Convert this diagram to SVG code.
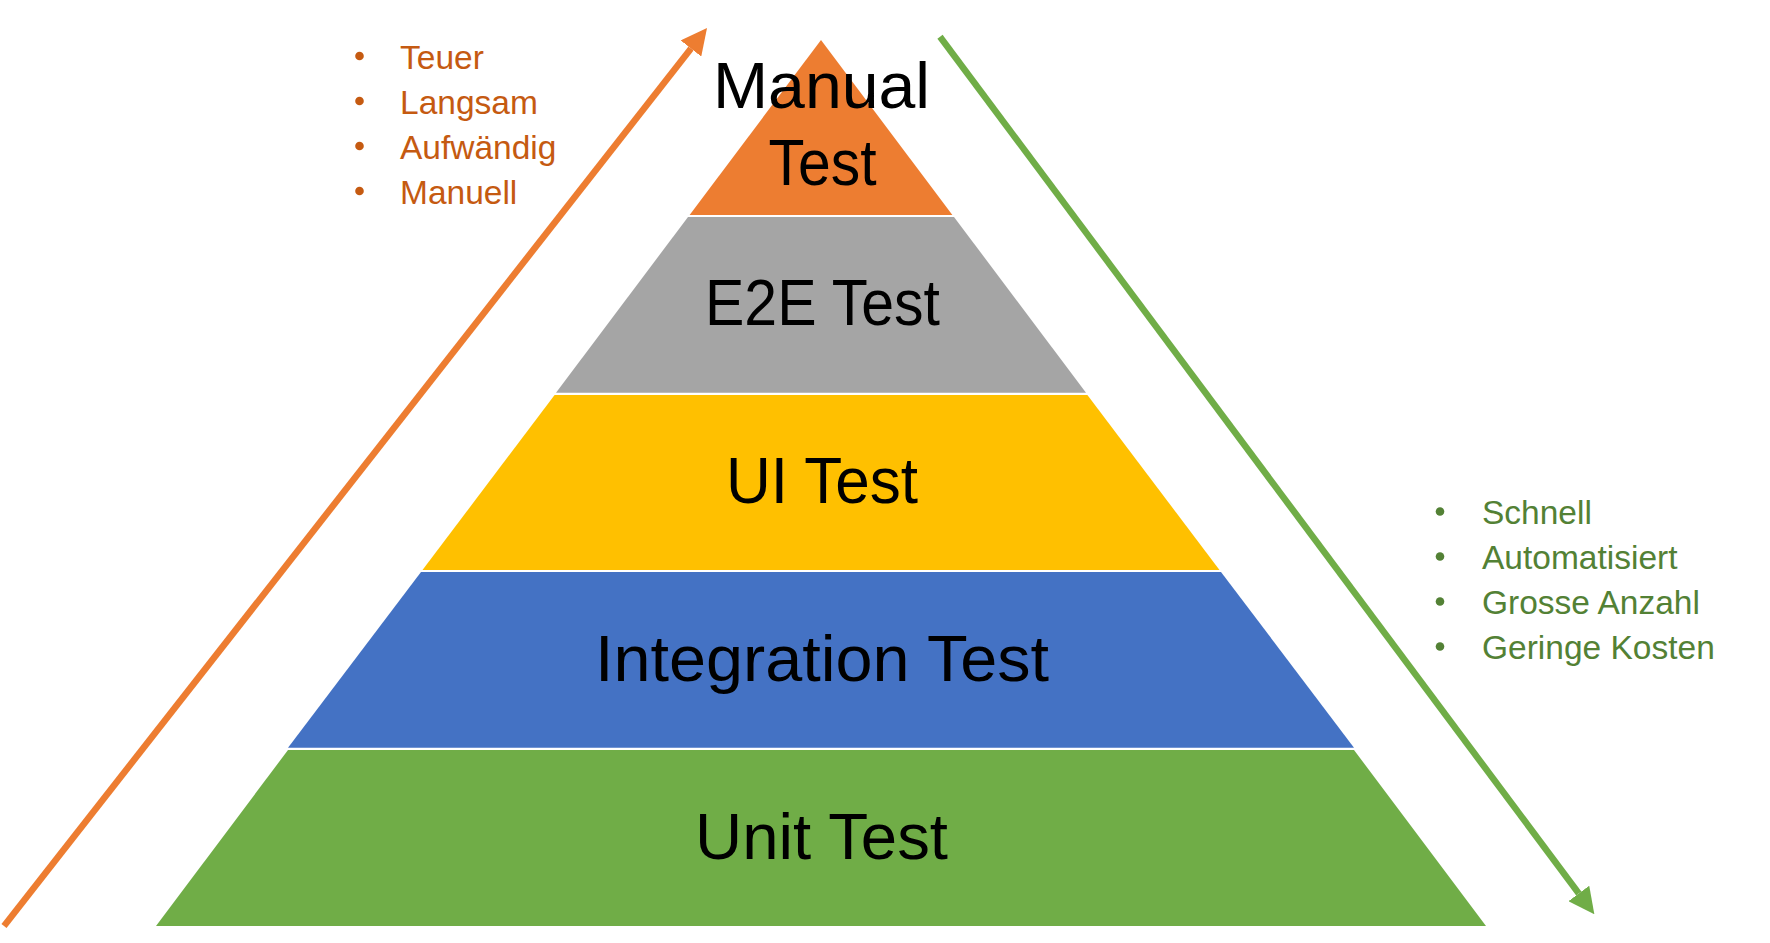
<svg xmlns="http://www.w3.org/2000/svg" width="1770" height="943" viewBox="0 0 1770 943">
<style>
.lbl{font-family:"Liberation Sans",Arial,sans-serif;font-size:64px;fill:#000;text-anchor:middle}
.lo{font-family:"Liberation Sans",Arial,sans-serif;font-size:33.5px;fill:#C55A11}
.lg{font-family:"Liberation Sans",Arial,sans-serif;font-size:33.5px;fill:#538135}
.bo{fill:#C55A11}
.bg{fill:#538135}
</style>
<defs>
<marker id="ho" markerUnits="userSpaceOnUse" markerWidth="26" markerHeight="26" refX="0" refY="13" orient="auto"><path d="M0,0 L26,13 L0,26 z" fill="#ED7D31"/></marker>
<marker id="hg" markerUnits="userSpaceOnUse" markerWidth="26" markerHeight="26" refX="0" refY="13" orient="auto"><path d="M0,0 L26,13 L0,26 z" fill="#70AD47"/></marker>
</defs>
<rect width="1770" height="943" fill="#fff"/>
<g id="connectors">
<line x1="4" y1="926" x2="691" y2="48.5" stroke="#ED7D31" stroke-width="6.5" marker-end="url(#ho)"/>
<line x1="940" y1="36.7" x2="1578.8" y2="893.5" stroke="#70AD47" stroke-width="6.5" marker-end="url(#hg)"/>
</g>
<g id="unit">
<polygon points="288,750 1354,750 1486,926 156,926" fill="#70AD47"/>
<text class="lbl" x="821.5" y="859" textLength="253" lengthAdjust="spacingAndGlyphs">Unit Test</text>
</g>
<g id="integration">
<polygon points="421,572 1221,572 1354,747.7 288,747.7" fill="#4472C4"/>
<text class="lbl" x="822" y="681" textLength="454" lengthAdjust="spacingAndGlyphs">Integration Test</text>
</g>
<g id="ui">
<polygon points="554.6,395 1087.4,395 1219.5,570 422.5,570" fill="#FFC000"/>
<text class="lbl" x="822" y="503" textLength="192" lengthAdjust="spacingAndGlyphs">UI Test</text>
</g>
<g id="e2e">
<polygon points="688,217 954,217 1086,392.7 556,392.7" fill="#A5A5A5"/>
<text class="lbl" x="822.5" y="325" textLength="235" lengthAdjust="spacingAndGlyphs">E2E Test</text>
</g>
<g id="manual">
<polygon points="821,40 952.4,215 689.6,215" fill="#ED7D31"/>
<text class="lbl" x="821.5" y="108" textLength="217" lengthAdjust="spacingAndGlyphs">Manual</text>
<text class="lbl" x="822.5" y="185" textLength="108" lengthAdjust="spacingAndGlyphs">Test</text>
</g>
<g id="cons-list">
<circle class="bo" cx="359.5" cy="56" r="4.3"/>
<circle class="bo" cx="359.5" cy="101" r="4.3"/>
<circle class="bo" cx="359.5" cy="146" r="4.3"/>
<circle class="bo" cx="359.5" cy="191" r="4.3"/>
<text class="lo" x="400" y="69">Teuer</text>
<text class="lo" x="400" y="114">Langsam</text>
<text class="lo" x="400" y="159">Aufwändig</text>
<text class="lo" x="400" y="204">Manuell</text>
</g>
<g id="pros-list">
<circle class="bg" cx="1440" cy="511.5" r="4.3"/>
<circle class="bg" cx="1440" cy="556.5" r="4.3"/>
<circle class="bg" cx="1440" cy="601.5" r="4.3"/>
<circle class="bg" cx="1440" cy="646.5" r="4.3"/>
<text class="lg" x="1482" y="524">Schnell</text>
<text class="lg" x="1482" y="569">Automatisiert</text>
<text class="lg" x="1482" y="614">Grosse Anzahl</text>
<text class="lg" x="1482" y="659">Geringe Kosten</text>
</g>
</svg>
